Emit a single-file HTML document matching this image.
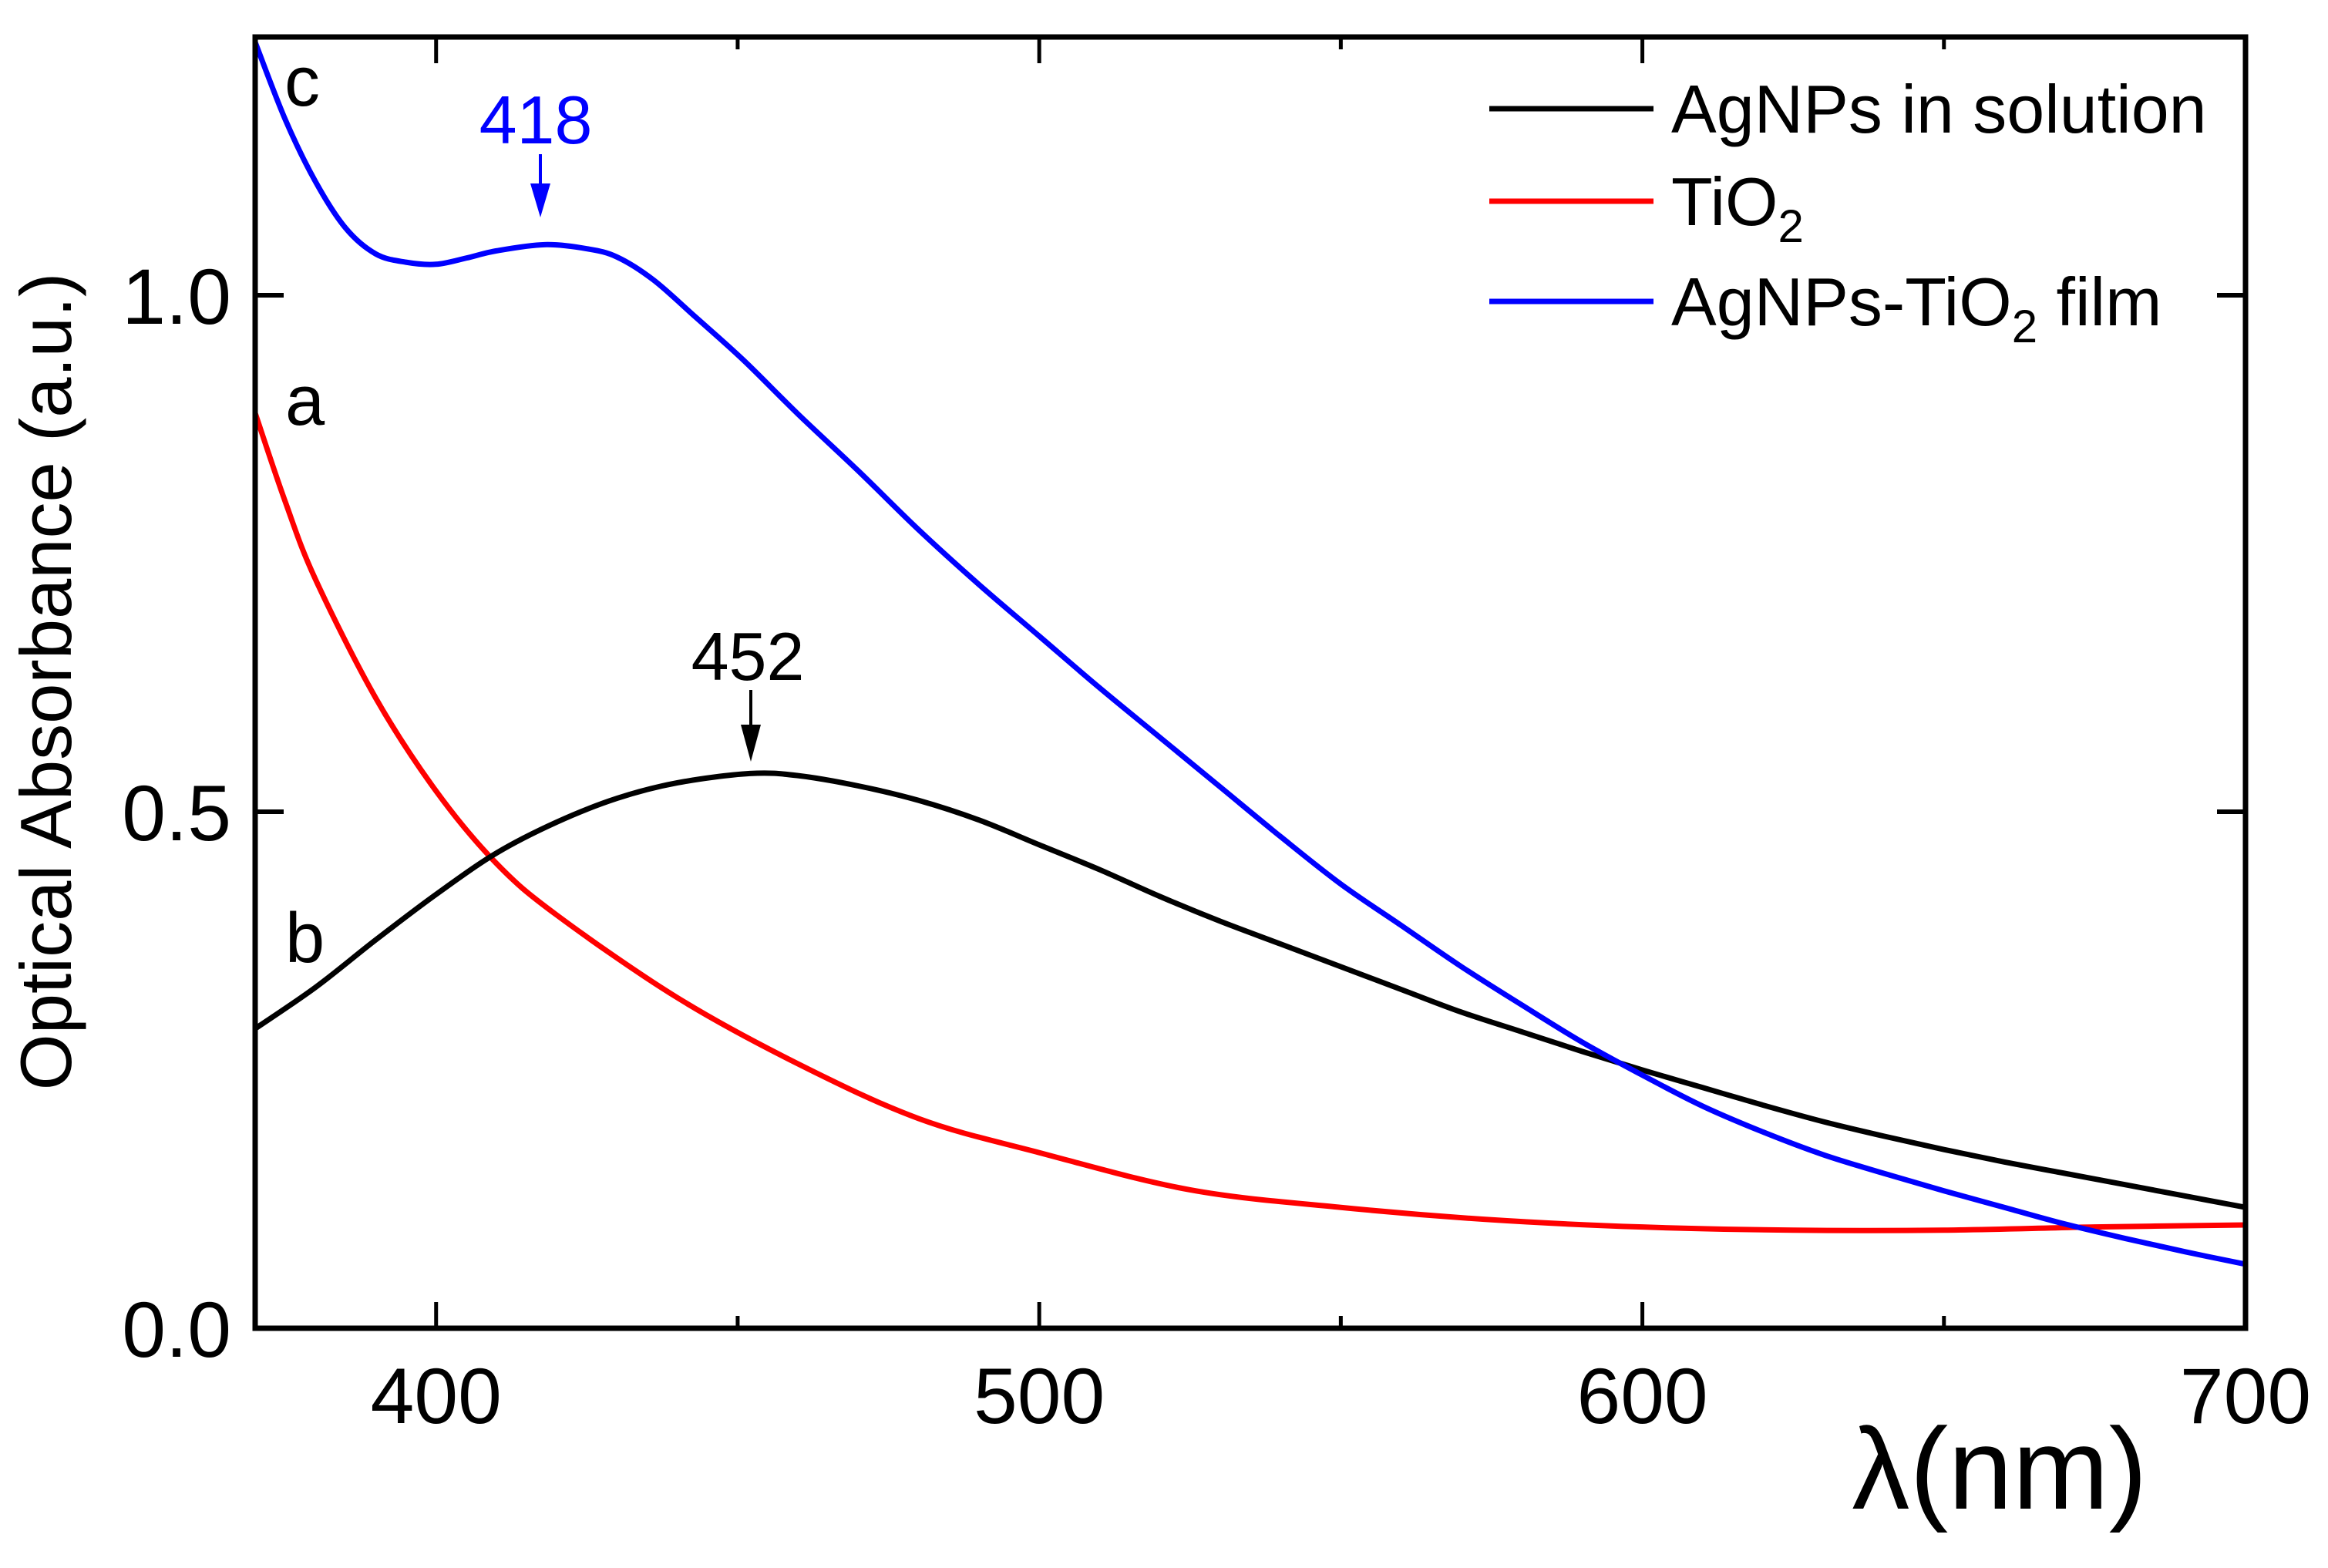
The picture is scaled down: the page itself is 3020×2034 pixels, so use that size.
<!DOCTYPE html>
<html><head><meta charset="utf-8"><style>
html,body{margin:0;padding:0;background:#fff;}
svg{display:block;font-family:"Liberation Sans",Arial,sans-serif;}
</style></head><body>
<svg id="chart" width="3020" height="2034" viewBox="0 0 3020 2034" xmlns="http://www.w3.org/2000/svg">
<rect width="3020" height="2034" fill="#fff"/>
<g id="series"></g>
<g id="axes"></g>
<text transform="translate(92,884) rotate(-90)" text-anchor="middle" font-size="94">Optical Absorbance (a.u.)</text>
<text x="2594" y="1957" text-anchor="middle" font-size="150">λ(nm)</text>
<text x="369" y="137" font-size="92">c</text>
<text x="370" y="551" font-size="92">a</text>
<text x="370" y="1248" font-size="92">b</text>
<text x="695" y="186" text-anchor="middle" font-size="88" fill="#0000ff">418</text>
<line x1="701" y1="200" x2="701" y2="250" stroke="#0000ff" stroke-width="4"/>
<polygon points="688,238 714,238 701,282" fill="#0000ff"/>
<text x="970" y="882" text-anchor="middle" font-size="88">452</text>
<line x1="974" y1="895" x2="974" y2="950" stroke="#000" stroke-width="4"/>
<polygon points="961,940 987,940 974,988" fill="#000"/>
<g>
<line x1="1932" y1="141" x2="2145" y2="141" stroke="#000" stroke-width="7"/>
<text x="2168" y="172" font-size="88">AgNPs in solution</text>
<line x1="1932" y1="261" x2="2145" y2="261" stroke="#ff0000" stroke-width="7"/>
<text x="2168" y="292" font-size="88">TiO<tspan font-size="60" dy="22">2</tspan></text>
<line x1="1932" y1="391" x2="2145" y2="391" stroke="#0000ff" stroke-width="7"/>
<text x="2168" y="422" font-size="88">AgNPs-TiO<tspan font-size="60" dy="22">2</tspan><tspan dy="-22"> film</tspan></text>
</g>
</svg>
<script>
const xTicks = [400, 500, 600, 700];
const xMinor = [450, 550, 650];
const yTicks = [0.0, 0.5, 1.0];
const yTickLabels = ["0.0", "0.5", "1.0"];
const wlA = [370,375,380,390,400,410,420,440,460,480,500,525,550,575,600,625,650,675,700];
const absA = [0.886,0.80,0.725,0.61,0.52,0.45,0.40,0.32,0.256,0.203,0.17,0.134,0.117,0.105,0.098,0.095,0.095,0.098,0.10];
const wlB = [370,380,390,400,410,420,430,440,452,460,470,480,490,500,510,520,530,540,550,560,570,580,590,600,610,620,630,640,650,660,670,680,690,700];
const absB = [0.29,0.33,0.376,0.42,0.46,0.49,0.513,0.528,0.537,0.535,0.525,0.511,0.492,0.468,0.444,0.418,0.394,0.372,0.35,0.328,0.306,0.287,0.268,0.25,0.233,0.216,0.2,0.186,0.173,0.161,0.15,0.139,0.128,0.117];
const wlC = [370,375,380,385,390,395,400,405,410,418,425,430,436,443,451,460,470,480,490,500,510,520,530,540,550,560,570,580,590,600,610,620,630,640,650,660,670,680,690,700];
const absC = [1.245,1.17,1.11,1.065,1.04,1.032,1.03,1.036,1.043,1.049,1.045,1.037,1.015,0.979,0.937,0.885,0.83,0.773,0.72,0.67,0.62,0.572,0.524,0.476,0.43,0.39,0.35,0.313,0.277,0.245,0.215,0.19,0.168,0.15,0.133,0.117,0.101,0.087,0.074,0.062];

const X0=331, X1=2913, Y0=1723, Y1=48, XMIN=370, XMAX=700, YMIN=0, YMAX=1.25;
const sx = v => X0 + (v - XMIN) / (XMAX - XMIN) * (X1 - X0);
const sy = v => Y0 - (v - YMIN) / (YMAX - YMIN) * (Y0 - Y1);
const NS = "http://www.w3.org/2000/svg";
function mk(tag, attrs, parent){ const e=document.createElementNS(NS,tag); for(const k in attrs) e.setAttribute(k,attrs[k]); parent.appendChild(e); return e; }

function pathD(xs, ys){
  const p = xs.map((x,i)=>[sx(x), sy(ys[i])]);
  let d = "M"+p[0][0]+","+p[0][1];
  for(let i=0;i<p.length-1;i++){
    const p0=p[Math.max(0,i-1)], p1=p[i], p2=p[i+1], p3=p[Math.min(p.length-1,i+2)];
    const c1=[p1[0]+(p2[0]-p0[0])/6, p1[1]+(p2[1]-p0[1])/6];
    const c2=[p2[0]-(p3[0]-p1[0])/6, p2[1]-(p3[1]-p1[1])/6];
    d += " C"+c1[0]+","+c1[1]+" "+c2[0]+","+c2[1]+" "+p2[0]+","+p2[1];
  }
  return d;
}
const sg = document.getElementById("series");
const la = mk("path",{d:pathD(wlA,absA),fill:"none",stroke:"#ff0000","stroke-width":7},sg);


const lb = mk("path",{d:pathD(wlB,absB),fill:"none",stroke:"#000","stroke-width":7},sg);


const lc = mk("path",{d:pathD(wlC,absC),fill:"none",stroke:"#0000ff","stroke-width":7},sg);



const ag = document.getElementById("axes");
const frame = mk("rect",{x:X0,y:Y1,width:X1-X0,height:Y0-Y1,fill:"none",stroke:"#000","stroke-width":7},ag);


xTicks.forEach(v=>{
  const x=sx(v);
  const t1=mk("line",{x1:x,y1:Y0,x2:x,y2:Y0-34,stroke:"#000","stroke-width":5},ag);
  
  
  const t2=mk("line",{x1:x,y1:Y1,x2:x,y2:Y1+34,stroke:"#000","stroke-width":5},ag);
  
  
  const tl=mk("text",{x:x,y:1846,"text-anchor":"middle","font-size":"102"},ag);
  tl.textContent=String(v);
  
  
});
xMinor.forEach(v=>{
  const x=sx(v);
  const t1=mk("line",{x1:x,y1:Y0,x2:x,y2:Y0-16,stroke:"#000","stroke-width":5},ag);
  
  
  const t2=mk("line",{x1:x,y1:Y1,x2:x,y2:Y1+16,stroke:"#000","stroke-width":5},ag);
  
  
});
yTicks.forEach((v,i)=>{
  const y=sy(v);
  const t1=mk("line",{x1:X0,y1:y,x2:X0+37,y2:y,stroke:"#000","stroke-width":6},ag);
  
  
  const t2=mk("line",{x1:X1,y1:y,x2:X1-37,y2:y,stroke:"#000","stroke-width":6},ag);
  
  
  const tl=mk("text",{x:300,y:y+37,"text-anchor":"end","font-size":"102"},ag);
  tl.textContent=yTickLabels[i];
  
  
});
</script>
</body></html>
